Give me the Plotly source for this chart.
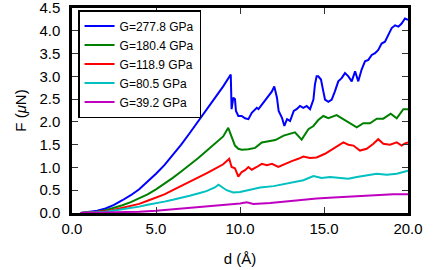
import plotly.graph_objects as go

# ---------------- data ----------------
blue_d = [0.5, 1.0, 1.5, 2.0, 2.5, 3.0, 3.5, 4.0, 4.5, 5.0, 5.5, 6.0, 6.5, 7.0, 7.5, 8.0, 8.5, 9.0, 9.45,
          9.5, 9.6, 9.7, 9.76, 9.9, 10.1, 10.3, 10.5, 10.7, 11.0, 11.1, 11.3, 11.5, 11.7, 11.9,
          12.04, 12.2, 12.3, 12.5, 12.64, 12.8, 12.98, 13.2, 13.37, 13.57, 13.77, 13.97,
          14.17, 14.37, 14.46, 14.56, 14.66, 14.82, 14.96, 15.06, 15.26, 15.46, 15.65, 15.85,
          16.05, 16.25, 16.45, 16.65, 16.85, 17.04, 17.24, 17.44, 17.64, 17.84,
          18.04, 18.23, 18.43, 18.63, 18.83, 19.03, 19.23, 19.43, 19.62, 19.82, 20.0]
blue_F = [0.0, 0.02, 0.05, 0.10, 0.18, 0.28, 0.39, 0.52, 0.68, 0.86, 1.05, 1.27, 1.50, 1.75, 2.00, 2.26, 2.52, 2.78, 3.04,
          2.28, 2.53, 2.50, 2.24, 2.13, 2.13, 2.08, 2.06, 2.20, 2.31, 2.28, 2.38, 2.49, 2.57, 2.67,
          2.78, 2.53, 2.24, 2.09, 1.91, 2.06, 2.02, 2.24, 2.28, 2.35, 2.31, 2.35,
          2.28, 2.49, 2.82, 3.00, 3.00, 2.93, 2.67, 2.49, 2.44, 2.49, 2.67, 2.89,
          2.96, 3.07, 3.00, 2.89, 3.11, 2.89, 3.15, 3.33, 3.36, 3.47,
          3.51, 3.58, 3.72, 3.76, 3.91, 4.06, 4.12, 4.09, 4.16, 4.27, 4.24]

green_d = [0.5, 1.0, 1.5, 2.0, 2.5, 3.0, 3.5, 4.0, 4.5, 5.0, 5.5, 6.0, 6.5, 7.0, 7.5, 8.0, 8.5, 9.0, 9.3,
           9.7, 9.9, 10.1, 10.5, 10.9, 11.3, 11.8, 12.1, 12.6, 13.27, 13.67, 14.07, 14.37, 14.66,
           14.96, 15.26, 15.75, 16.35, 16.95, 17.34, 17.74, 18.14, 18.53, 18.97, 19.33, 19.72, 20.0]
green_F = [0.0, 0.01, 0.03, 0.06, 0.11, 0.17, 0.24, 0.32, 0.41, 0.52, 0.64, 0.77, 0.91, 1.05, 1.20, 1.36, 1.52, 1.68, 1.87,
           1.48, 1.41, 1.39, 1.40, 1.43, 1.55, 1.59, 1.60, 1.70, 1.77, 1.61, 1.84, 1.91, 2.04,
           2.13, 2.08, 2.15, 2.02, 1.88, 1.97, 1.97, 2.07, 2.07, 2.18, 2.08, 2.28, 2.28]

red_d = [0.5, 1.0, 1.5, 2.0, 2.5, 3.0, 3.5, 4.0, 4.5, 5.0, 5.5, 6.0, 6.5, 7.0, 7.5, 8.0, 8.5, 9.0, 9.36,
         9.5, 9.7, 9.9, 10.1, 10.3, 10.5, 10.7, 11.0, 11.3, 11.6, 11.9, 12.28, 12.68, 13.08, 13.47,
         13.77, 14.17, 14.56, 15.06, 15.56, 16.15, 16.45, 16.75, 17.14, 17.54, 17.94, 18.23, 18.53,
         18.93, 19.33, 19.62, 19.82, 20.0]
red_F = [0.0, 0.01, 0.02, 0.04, 0.07, 0.11, 0.15, 0.20, 0.27, 0.34, 0.41, 0.50, 0.59, 0.68, 0.77, 0.87, 0.97, 1.07, 1.19,
         1.01, 0.98, 0.80, 0.90, 0.94, 1.01, 0.95, 1.01, 1.08, 1.05, 1.08, 1.01, 1.08, 1.14, 1.19,
         1.24, 1.21, 1.22, 1.30, 1.41, 1.55, 1.50, 1.48, 1.37, 1.41, 1.52, 1.62, 1.52,
         1.50, 1.55, 1.48, 1.53, 1.55]

cyan_d = [0.5, 1.0, 1.5, 2.0, 2.5, 3.0, 3.5, 4.0, 4.5, 5.0, 5.5, 6.0, 6.5, 7.0, 7.5, 8.0, 8.5, 8.72,
          9.2, 9.6, 10.0, 10.6, 11.2, 12.0, 12.78, 13.37, 13.77, 14.37, 14.86, 15.36, 15.95, 16.45,
          16.95, 17.54, 18.14, 18.73, 19.33, 19.72, 20.0]
cyan_F = [0.0, 0.005, 0.015, 0.03, 0.055, 0.08, 0.11, 0.14, 0.18, 0.21, 0.25, 0.29, 0.33, 0.38, 0.43, 0.48, 0.56, 0.62,
          0.50, 0.45, 0.46, 0.51, 0.56, 0.59, 0.65, 0.68, 0.72, 0.81, 0.77, 0.79, 0.77, 0.75,
          0.79, 0.83, 0.86, 0.84, 0.86, 0.90, 0.93]

mag_d = [0.5, 1.0, 2.0, 3.0, 4.0, 5.0, 6.0, 7.0, 8.0, 9.0, 10.0, 10.4, 10.8, 11.8, 12.58, 13.57,
         14.56, 15.56, 16.55, 17.54, 18.33, 19.13, 20.0]
mag_F = [0.0, 0.002, 0.006, 0.015, 0.03, 0.05, 0.08, 0.11, 0.145, 0.18, 0.21, 0.235, 0.20, 0.22, 0.25, 0.28,
         0.32, 0.34, 0.36, 0.38, 0.41, 0.41, 0.41]

series_names = ["G=277.8 GPa", "G=180.4 GPa", "G=118.9 GPa", "G=80.5 GPa", "G=39.2 GPa"]
series_colors = ["#0000ff", "#008000", "#ff0000", "#00c0c0", "#c000c0"]
x_ticks = [0, 5, 10, 15, 20]
x_tick_labels = ["0.0", "5.0", "10.0", "15.0", "20.0"]
y_ticks = [0, 0.5, 1.0, 1.5, 2.0, 2.5, 3.0, 3.5, 4.0, 4.5]
y_tick_labels = ["0.0", "0.5", "1.0", "1.5", "2.0", "2.5", "3.0", "3.5", "4.0", "4.5"]

# ---------------- figure ----------------
FONT = "Liberation Sans, Arial, sans-serif"
fig = go.Figure()
for d, F, name, col in zip([blue_d, green_d, red_d, cyan_d, mag_d],
                           [blue_F, green_F, red_F, cyan_F, mag_F],
                           series_names, series_colors):
    fig.add_trace(go.Scatter(x=d, y=F, mode="lines", name=name,
                             line=dict(color=col, width=2)))

axis_common = dict(showline=True, linecolor="black", linewidth=2.5, mirror="ticks",
                   ticks="inside", ticklen=6, tickwidth=1, tickcolor="#333333",
                   showgrid=False, zeroline=False, automargin=False,
                   ticklabeloverflow="allow",
                   tickfont=dict(family=FONT, size=15, color="black"))

fig.update_layout(
    width=436, height=270,
    margin=dict(l=72, r=28, t=8, b=57),
    paper_bgcolor="white", plot_bgcolor="white",
    font=dict(family=FONT, color="black"),
    showlegend=True,
    legend=dict(x=0.018, y=0.99, xanchor="left", yanchor="top",
                bordercolor="black", borderwidth=1.5, bgcolor="white",
                font=dict(family=FONT, size=12), tracegroupgap=0,
                itemwidth=30),
    xaxis=dict(range=[0, 20], tickvals=x_ticks, ticktext=x_tick_labels,
               title=dict(text="d (Å)", font=dict(family=FONT, size=15), standoff=18),
               ticklabelstandoff=0, **axis_common),
    yaxis=dict(range=[0, 4.5], tickvals=y_ticks, ticktext=y_tick_labels,
               title=dict(text="F (<i>μ</i>N)", font=dict(family=FONT, size=15), standoff=10),
               ticklabelstandoff=6, **axis_common),
)

fig.write_html("out.html", config={"displayModeBar": False},
               post_script="document.body.style.margin='0';")
